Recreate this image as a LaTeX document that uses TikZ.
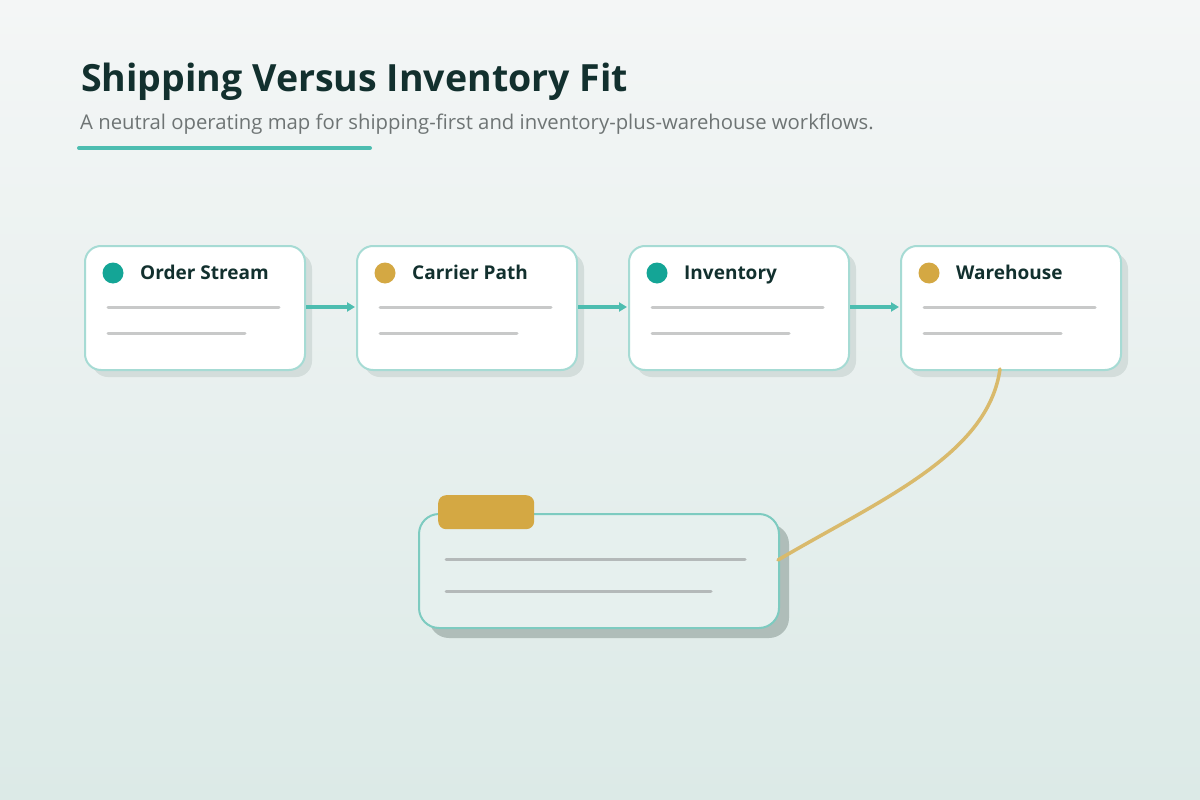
\documentclass[tikz,border=0pt]{standalone}
\usepackage{fontspec}
\setmainfont{Open Sans}
\usetikzlibrary{arrows.meta,shadings}
\definecolor{bgtop}{HTML}{F4F6F6}
\definecolor{bgbot}{HTML}{DCEAE7}
\definecolor{titlec}{HTML}{12302E}
\definecolor{subc}{HTML}{6E7474}
\definecolor{teal}{HTML}{4DBDB0}
\definecolor{dteal}{HTML}{14A596}
\definecolor{gold}{HTML}{D4A843}
\definecolor{lgold}{HTML}{D9BA6C}
\definecolor{cardborder}{HTML}{A6DBD4}
\definecolor{cardshadow}{HTML}{D3DDDB}
\definecolor{linegray}{HTML}{C8C9C9}
\definecolor{panelfill}{HTML}{E6F0EE}
\definecolor{panelborder}{HTML}{7DCBC0}
\definecolor{panelshadow}{HTML}{AFBDB9}
\definecolor{panelline}{HTML}{B4B9B9}
\tikzset{
  card/.style={draw=cardborder, line width=2pt, fill=white, rounded corners=16pt, minimum width=220pt, minimum height=124pt, anchor=north west, inner sep=0pt},
  cardshade/.style={fill=cardshadow, rounded corners=16pt},
  dotnode/.style={circle, minimum size=21pt, inner sep=0pt},
  cardtitle/.style={anchor=base west, font=\bfseries\fontsize{19}{22}\selectfont, text=titlec, inner sep=0pt},
  bar/.style={line width=3pt, line cap=round, draw=linegray},
  flow/.style={draw=teal, line width=3.5pt, -{Triangle[length=8pt,width=9pt]}, shorten >=1pt},
}
\begin{document}
\begin{tikzpicture}[x=1pt,y=-1pt]
\useasboundingbox (0,0) rectangle (1200,800);
\shade[top color=bgtop, bottom color=bgbot] (0,0) rectangle (1200,800);
% title
\node[anchor=base west, inner sep=0pt, text=titlec, font=\bfseries\fontsize{37.5}{42}\selectfont] (title) at (81,92) {Shipping Versus Inventory Fit};
\node[anchor=base west, inner sep=0pt, text=subc, font=\fontsize{20.3}{24}\selectfont] (sub) at (80,129) {A neutral operating map for shipping-first and inventory-plus-warehouse workflows.};
\draw[teal, line width=4pt, line cap=round] (79,148) -- (370,148);
% cards
\foreach \x/\name/\col/\lbl in {84/c1/dteal/Order Stream, 356/c2/gold/Carrier Path, 628/c3/dteal/Inventory, 900/c4/gold/Warehouse}{
  \fill[cardshade] (\x+8,253) rectangle (\x+228,377);
  \node[card] (\name) at (\x,245) {};
  \node[dotnode, fill=\col] (\name dot) at (\x+29,273) {};
  \node[cardtitle] (\name t) at (\x+56,279) {\lbl};
  \draw[bar] (\x+24,307) -- (\x+195,307);
  \draw[bar] (\x+24,333) -- (\x+161,333);
}
\draw[flow] (c1.east |- 0,307) -- (c2.west |- 0,307);
\draw[flow] (c2.east |- 0,307) -- (c3.west |- 0,307);
\draw[flow] (c3.east |- 0,307) -- (c4.west |- 0,307);
% panel
\fill[panelshadow, rounded corners=20pt] (429,524) rectangle (789,638);
\node[draw=panelborder, line width=2pt, fill=panelfill, rounded corners=20pt, minimum width=360pt, minimum height=114pt, anchor=north west, inner sep=0pt] (panel) at (418,513) {};
\node[fill=gold, rounded corners=8pt, minimum width=96pt, minimum height=34pt, anchor=north west, inner sep=0pt] (tag) at (438,495) {};
\draw[line width=3pt, line cap=round, draw=panelline] (446,559) -- (745,559);
\draw[line width=3pt, line cap=round, draw=panelline] (446,591) -- (711,591);
% connector
\coordinate (cstart) at (1000,369);
\coordinate (cend) at (778,560);
\draw[lgold, line width=3.5pt, line cap=round] (cstart) .. controls (988,455) and (880,500) .. (cend);
\end{tikzpicture}
\end{document}
